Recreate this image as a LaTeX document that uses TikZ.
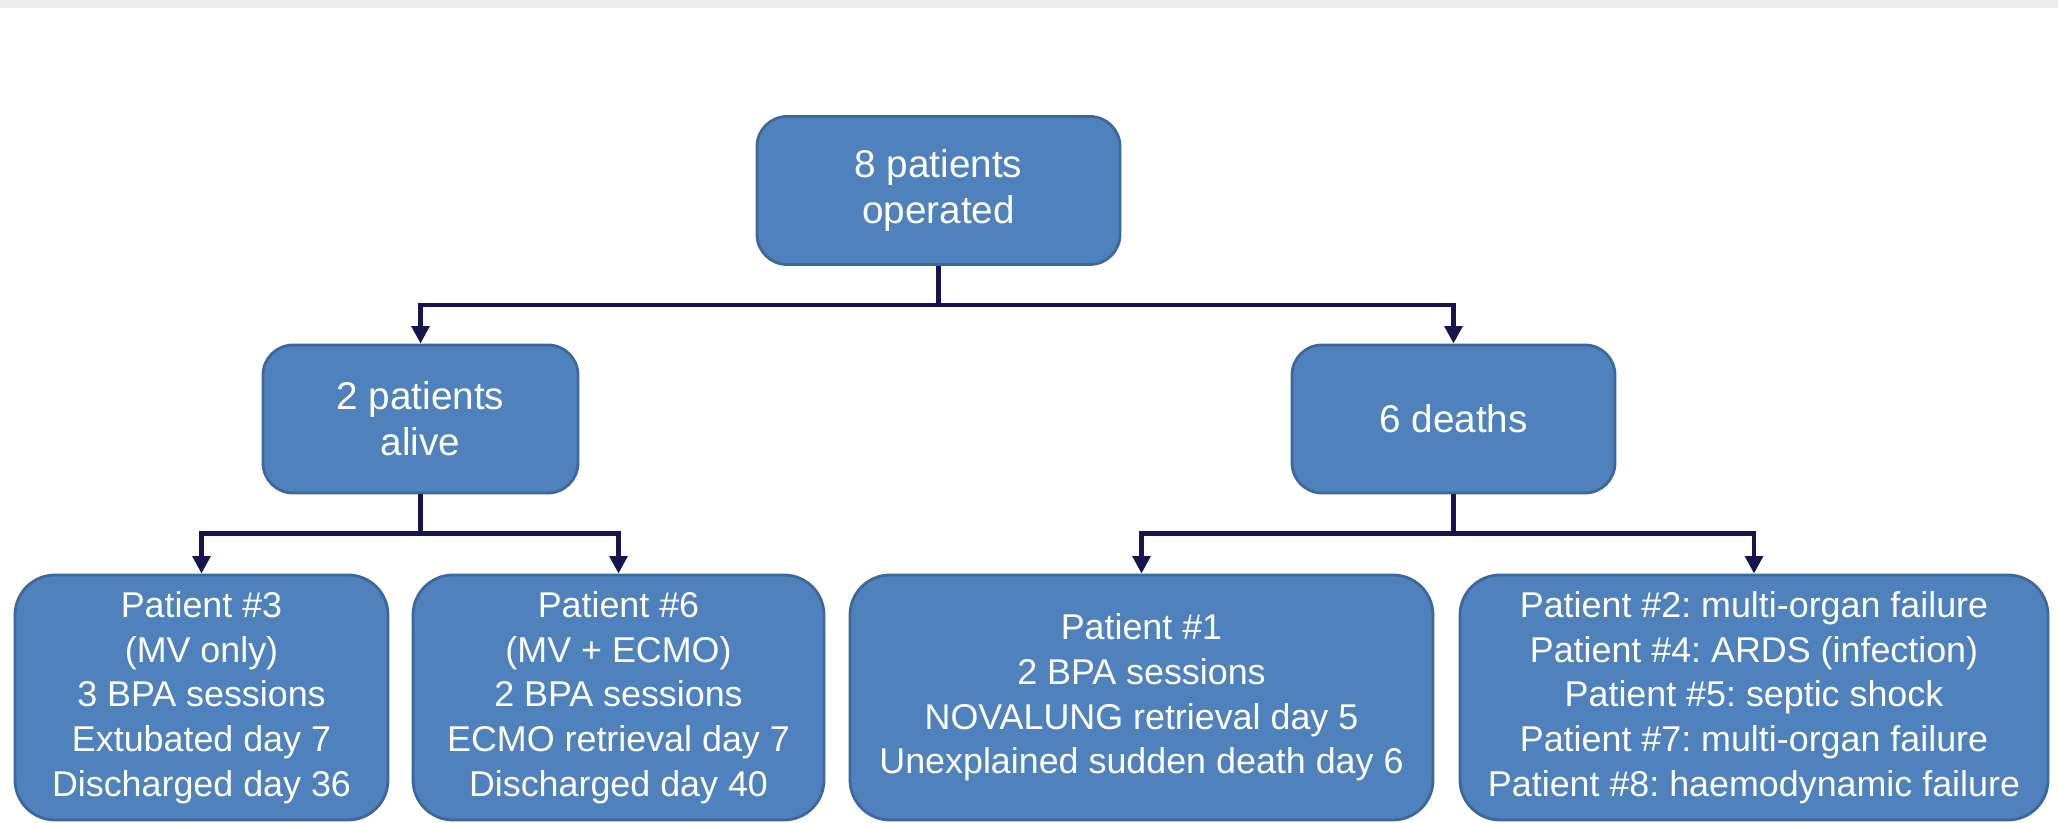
\documentclass[tikz,border=0pt]{standalone}
\usepackage{fontspec}
\setmainfont{Liberation Sans}
\usepackage{xcolor}
\usetikzlibrary{arrows.meta}

\definecolor{boxblue}{RGB}{79,129,189}
\definecolor{boxedge}{RGB}{62,104,156}
\definecolor{linknavy}{RGB}{22,22,78}

\begin{document}
\frenchspacing
\begin{tikzpicture}[
  box/.style = {draw=boxedge, line width=0.8pt, fill=boxblue, text=white, align=center, inner sep=0pt},
  bigbox/.style = {box, rounded corners=0.3cm, minimum height=1.48cm, font=\fontsize{11}{13}\selectfont},
  casebox/.style = {box, rounded corners=0.4cm, minimum height=2.45cm, font=\fontsize{10.2}{12.7}\selectfont},
  link/.style = {draw=linknavy, line width=1.3pt, -{Triangle[width=5pt,length=5pt]}}
]
  % Frame
  \useasboundingbox (0,0) rectangle (20.58,8.23);
  \fill[black!7] (0,8.15) rectangle (20.58,8.23);

  % Parameters
  \def\drop{0.39}

  % Top level
  \node[bigbox, minimum width=3.63cm] (top) at (9.385,6.325) {8 patients\\operated};

  % Second level
  \node[bigbox, minimum width=3.15cm] (alive) at (4.205,4.04) {2 patients\\alive};
  \node[bigbox, minimum width=3.23cm] (deaths) at (14.535,4.04) {6 deaths};

  % Single cases
  \node[casebox, minimum width=3.73cm] (pThree) at (2.015,1.255)
    {Patient \#3\\(MV only)\\3 BPA sessions\\Extubated day 7\\Discharged day 36};
  \node[casebox, minimum width=4.11cm] (pSix) at (6.185,1.255)
    {Patient \#6\\(MV + ECMO)\\2 BPA sessions\\ECMO retrieval day 7\\Discharged day 40};
  \node[casebox, minimum width=5.83cm] (pOne) at (11.415,1.255)
    {Patient \#1\\2 BPA sessions\\NOVALUNG retrieval day 5\\Unexplained sudden death day 6};
  \node[casebox, minimum width=5.88cm] (pRest) at (17.54,1.255)
    {Patient \#2: multi-organ failure\\Patient \#4: ARDS (infection)\\Patient \#5: septic shock\\Patient \#7: multi-organ failure\\Patient \#8: haemodynamic failure};

  % Connectors
  \draw[link] (top.south) -- ++(0,-\drop) -| (alive.north);
  \draw[link] (top.south) -- ++(0,-\drop) -| (deaths.north);
  \draw[link] (alive.south) -- ++(0,-\drop) -| (pThree.north);
  \draw[link] (alive.south) -- ++(0,-\drop) -| (pSix.north);
  \draw[link] (deaths.south) -- ++(0,-\drop) -| (pOne.north);
  \draw[link] (deaths.south) -- ++(0,-\drop) -| (pRest.north);

\end{tikzpicture}
\end{document}
